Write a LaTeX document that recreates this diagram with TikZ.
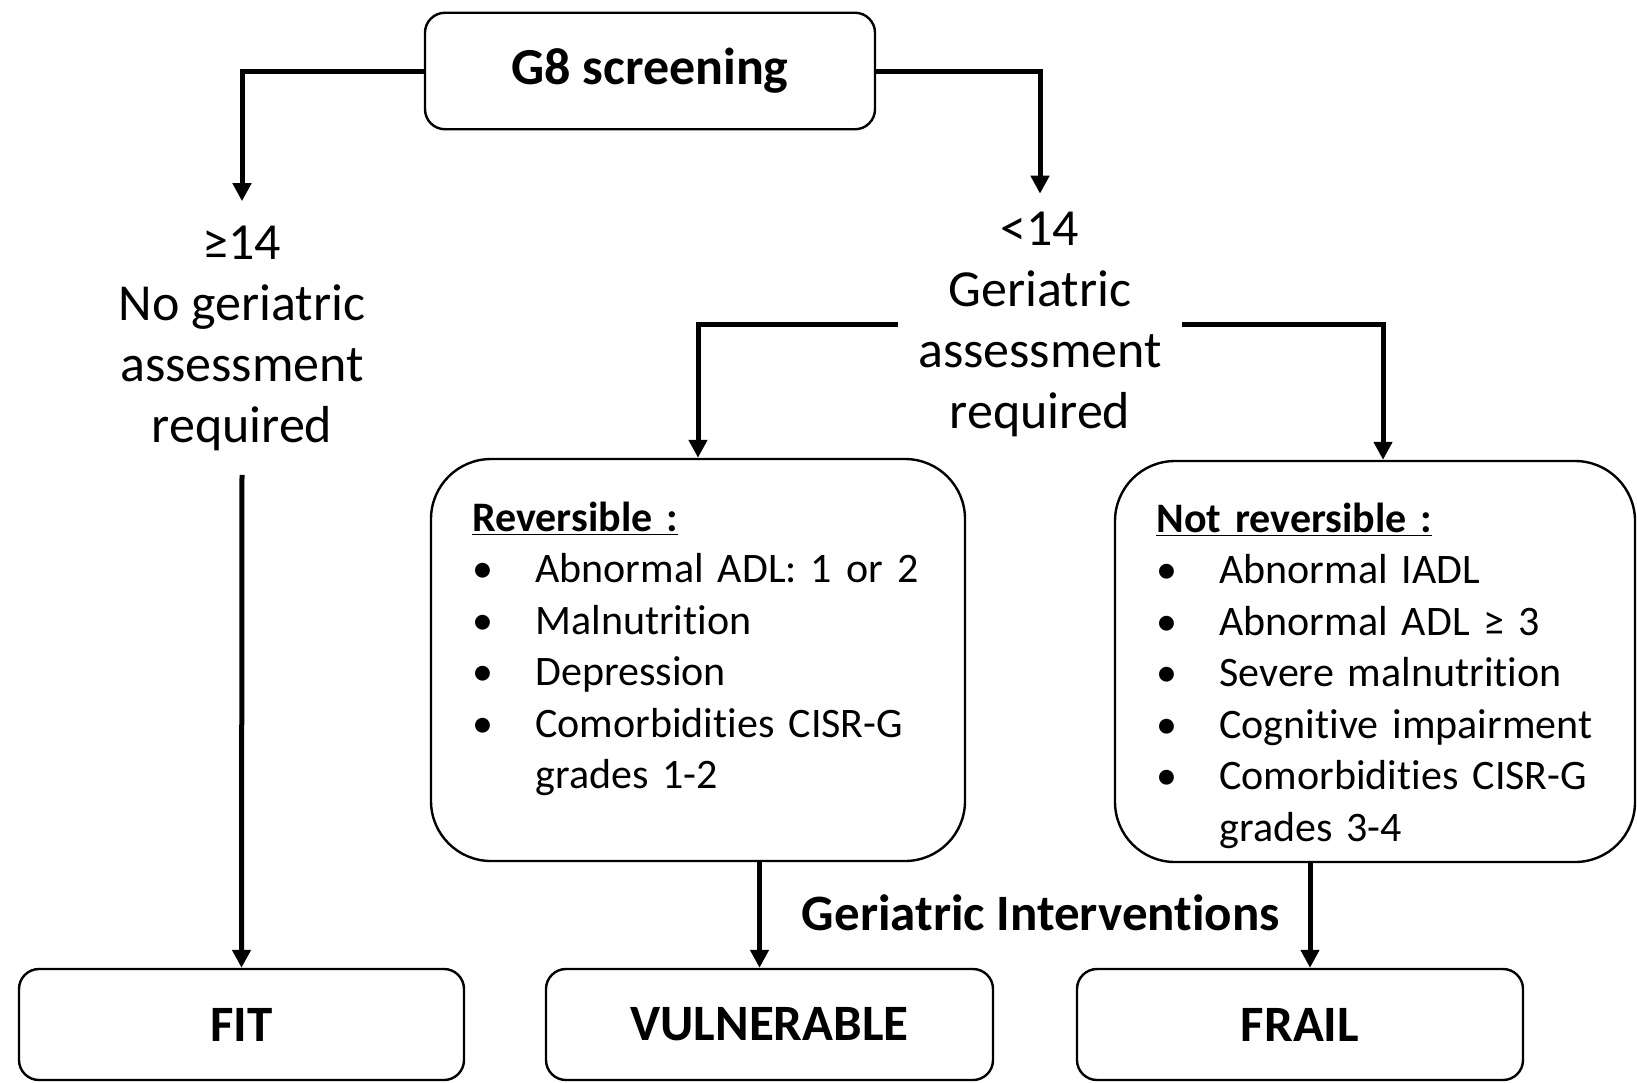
\documentclass[tikz,border=0pt]{standalone}
\usepackage{fontspec}
\setmainfont{Carlito}[Ligatures=NoCommon]
\usetikzlibrary{arrows.meta}
\newcommand\itembul{\makebox[31.5pt][l]{•}}
\begin{document}
\begin{tikzpicture}[x=0.5pt,y=-0.5pt,
 box/.style={draw, line width=1.2pt, rounded corners=10pt, inner sep=0pt, font=\fontsize{25.5}{30}\selectfont\bfseries},
 bigbox/.style={draw, line width=1.2pt, rounded corners=30pt, inner sep=0pt},
 lbl/.style={align=center, font=\fontsize{26}{30.5}\selectfont, inner xsep=10pt},
 lst/.style={anchor=base west, inner sep=0pt, text width=250pt, align=left, font=\fontsize{21}{25.75}\selectfont},
 arr/.style={line width=2.5pt, -{Triangle[width=9pt,length=9pt]}}
]
\useasboundingbox[fill=white] (0,0) rectangle (1637,1082);
\node[box, minimum width=225pt, minimum height=58.25pt, font=\fontsize{26}{30}\selectfont\bfseries] (g8) at (650,71) {G8 screening};
\node[lbl, inner ysep=12pt] (nog) at (242,338) {≥14\\No geriatric\\assessment\\required};
\node[lbl, inner ysep=9pt] (gar) at (1040,324.5) {<14\\Geriatric\\assessment\\required};
\node[bigbox, minimum width=267pt, minimum height=201pt] (rev) at (698,660) {};
\node[bigbox, minimum width=260pt, minimum height=200.5pt] (nrev) at (1375,661.5) {};
\node[lst] (revlist) at (472,531) {\underline{\textbf{Reversible :}}\\
\itembul Abnormal ADL: 1 or 2\\
\itembul Malnutrition\\
\itembul Depression\\
\itembul Comorbidities CISR-G\\
\hspace*{31.5pt}grades 1-2};
\node[lst] (nrevlist) at (1156,532) {\underline{\textbf{Not reversible :}}\\
\itembul Abnormal IADL\\
\itembul Abnormal ADL ≥ 3\\
\itembul Severe malnutrition\\
\itembul Cognitive impairment\\
\itembul Comorbidities CISR-G\\
\hspace*{31.5pt}grades 3-4};
\node[box, minimum width=222.5pt, minimum height=55.5pt] (fit) at (241.5,1024.5) {FIT};
\node[box, minimum width=223.5pt, minimum height=55.5pt] (vul) at (769.5,1024.5) {VULNERABLE};
\node[box, minimum width=223pt, minimum height=55.5pt] (frail) at (1300,1024.5) {FRAIL};
\node[font=\fontsize{25.5}{30}\selectfont\bfseries] (gi) at (1041,913) {Geriatric Interventions};
\draw[arr] (g8.west) -| (nog.north);
\draw[arr] (g8.east) -| (gar.north);
\draw[arr] (gar.west) -| (rev.north);
\draw[arr] (gar.east) -| ([xshift=4pt]nrev.north);
\draw[arr] (nog.south) -- (fit.north);
\draw[arr] ([xshift=-5pt]vul.north |- rev.south) -- ([xshift=-5pt]vul.north);
\draw[arr] ([xshift=5pt]frail.north |- nrev.south) -- ([xshift=5pt]frail.north);
\end{tikzpicture}
\end{document}
